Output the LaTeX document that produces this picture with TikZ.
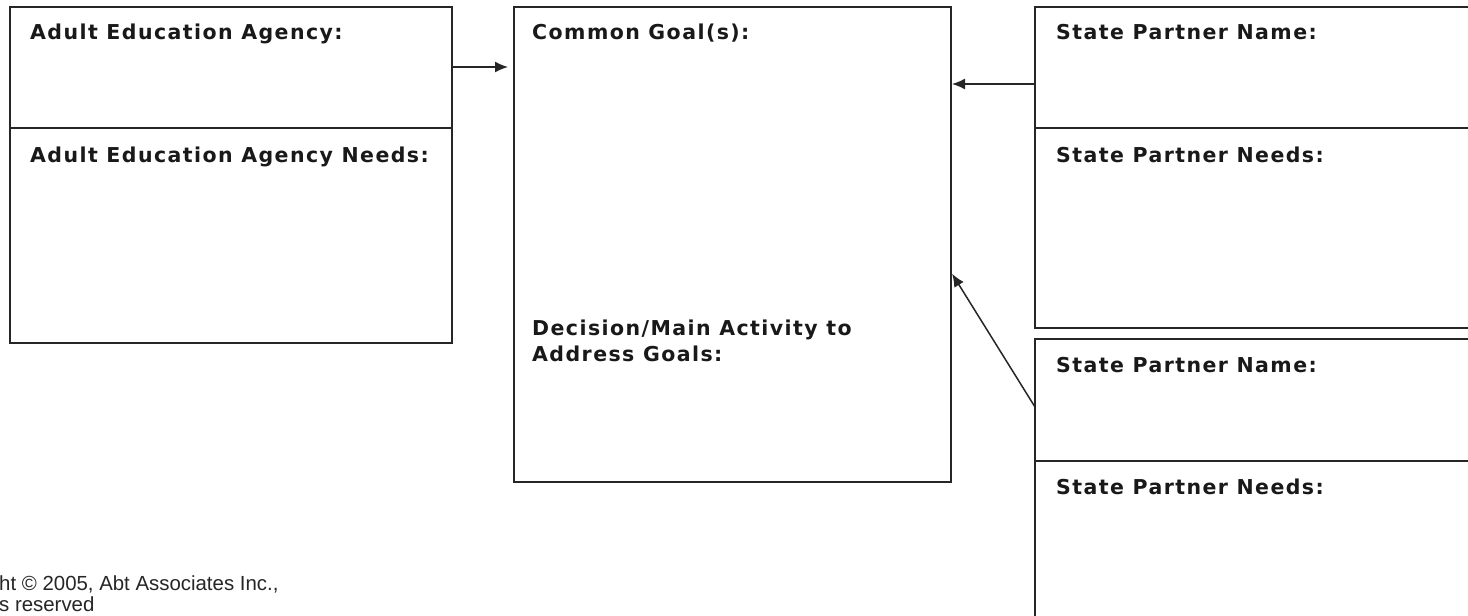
\documentclass[tikz,border=0pt]{standalone}
\usepackage{fontspec}
\usetikzlibrary{arrows.meta}
\newfontfamily\lblfont[LetterSpace=7]{DejaVu Sans}
\newfontfamily\notefont{Liberation Sans}
\tikzset{
  panel/.style={draw=black!85, line width=1.6pt, rectangle, inner sep=0pt, outer sep=0pt, anchor=north west},
  divider/.style={draw=black!85, line width=1.6pt},
  label/.style={anchor=base west, inner sep=0pt, font=\lblfont\bfseries\fontsize{20.5}{26}\selectfont, text=black!90, align=left},
  note/.style={anchor=base west, inner sep=0pt, font=\notefont\fontsize{20.4}{21}\selectfont, text=black!85},
  link/.style={draw=black!85, line width=1.5pt, -{Latex[length=13pt,width=11pt]}}
}
\begin{document}
\begin{tikzpicture}[x=1pt,y=-1pt]
  \clip (0,0) rectangle (1468,616);
  \fill[white] (0,0) rectangle (1468,616);

  % panels
  \node[panel, minimum width=442pt, minimum height=336pt] (aea) at (10,7) {};
  \node[panel, minimum width=437pt, minimum height=475pt] (goal) at (514,7) {};
  \node[panel, minimum width=450pt, minimum height=321pt] (spa) at (1035,7) {};
  \node[panel, minimum width=450pt, minimum height=300pt] (spb) at (1035,339) {};

  % dividers between name and needs
  \draw[divider] (aea.west |- 0,128) -- (aea.east |- 0,128);
  \draw[divider] (spa.west |- 0,128) -- (spa.east |- 0,128);
  \draw[divider] (spb.west |- 0,461) -- (spb.east |- 0,461);

  % labels
  \node[label] (l1) at (30,39) {Adult Education Agency:};
  \node[label] (l2) at (30,162) {Adult Education Agency Needs:};
  \node[label] (l3) at (532,39) {Common Goal(s):};
  \node[label] (l4) at (532,361) {Decision/Main Activity to\\Address Goals:};
  \node[label] (l5) at (1056,39) {State Partner Name:};
  \node[label] (l6) at (1056,162) {State Partner Needs:};
  \node[label] (l7) at (1056,372) {State Partner Name:};
  \node[label] (l8) at (1056,494) {State Partner Needs:};

  % copyright line
  \node[note] (c1) at (-1,590) {ht \textcopyright{} 2005, Abt Associates Inc.,};
  \node[note] (c2) at (-1,611) {s reserved};

  % connectors
  \draw[link, shorten >=6pt] (aea.east |- 0,67) -- (goal.west |- 0,67);
  \draw[link, shorten >=1pt] (spa.west |- 0,84) -- (goal.east |- 0,84);
  \draw[link, shorten >=2pt] (spb.west |- 0,407) -- (goal.east |- 0,272);
\end{tikzpicture}
\end{document}
